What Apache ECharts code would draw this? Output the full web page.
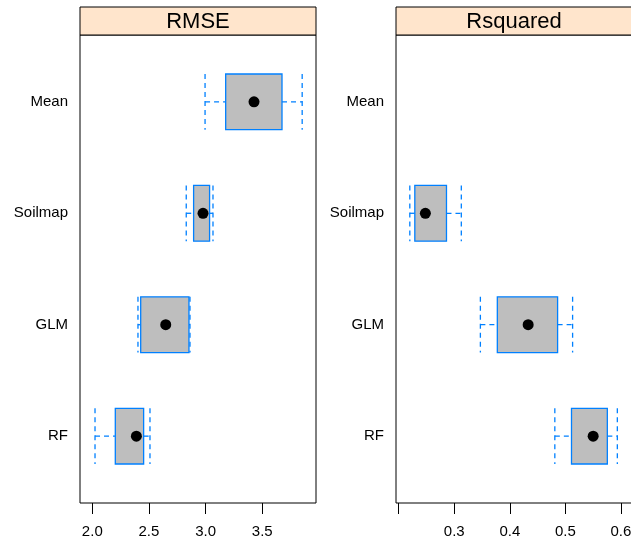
<!DOCTYPE html>
<html><head><meta charset="utf-8">
<script src="https://cdn.jsdelivr.net/npm/echarts@6/dist/echarts.min.js"></script>
<style>html,body{margin:0;padding:0;background:#fff}#c{width:631px;height:540px}</style>
</head><body><div id="c"></div>
<script>
const models = ['RF', 'GLM', 'Soilmap', 'Mean'];
const panels = ['RMSE', 'Rsquared'];
const rmseLow  = [2.024, 2.403, 2.829, 2.995];
const rmseQ1   = [2.203, 2.427, 2.894, 3.177];
const rmseMed  = [2.389, 2.648, 2.977, 3.427];
const rmseQ3   = [2.453, 2.853, 3.035, 3.674];
const rmseHigh = [2.509, 2.862, 3.065, 3.852];
const rsqLow  = [0.481, 0.347, 0.220, null];
const rsqQ1   = [0.511, 0.3775, 0.229, null];
const rsqMed  = [0.550, 0.433, 0.248, null];
const rsqQ3   = [0.5755, 0.486, 0.286, null];
const rsqHigh = [0.5935, 0.513, 0.3127, null];
const rmseTicks = [2.0, 2.5, 3.0, 3.5];
const rsqTicks = [0.2, 0.3, 0.4, 0.5, 0.6];
const rsqTickLabels = [0.3, 0.4, 0.5, 0.6];

function rows(lo, q1, md, q3, hi) {
  const out = [];
  models.forEach((m, i) => {
    if (md[i] == null) return;
    out.push([i + 1, lo[i], q1[i], md[i], q3[i], hi[i]]);
  });
  return out;
}

const BLUE = '#0080ff';
function renderBox(params, api) {
  const y = api.value(0);
  const pLo = api.coord([api.value(1), y]);
  const pQ1 = api.coord([api.value(2), y]);
  const pMd = api.coord([api.value(3), y]);
  const pQ3 = api.coord([api.value(4), y]);
  const pHi = api.coord([api.value(5), y]);
  const h = api.size([0, 0.5])[1];
  const cy = pLo[1];
  const dash = {stroke: BLUE, lineWidth: 1.3, lineDash: [5, 4], fill: null};
  return {
    type: 'group',
    children: [
      {type: 'line', shape: {x1: pLo[0], y1: cy, x2: pQ1[0], y2: cy}, style: dash},
      {type: 'line', shape: {x1: pQ3[0], y1: cy, x2: pHi[0], y2: cy}, style: dash},
      {type: 'line', shape: {x1: pLo[0], y1: cy - h / 2, x2: pLo[0], y2: cy + h / 2}, style: dash},
      {type: 'line', shape: {x1: pHi[0], y1: cy - h / 2, x2: pHi[0], y2: cy + h / 2}, style: dash},
      {type: 'rect', shape: {x: pQ1[0], y: cy - h / 2, width: pQ3[0] - pQ1[0], height: h},
        style: {fill: '#BEBEBE', stroke: BLUE, lineWidth: 1.3}},
      {type: 'circle', shape: {cx: pMd[0], cy: cy, r: 5.5}, style: {fill: '#000'}}
    ]
  };
}

const FONT = '"Liberation Sans", Arial, Helvetica, sans-serif';
const panelLeft = [80, 396];
const panelW = 236;
const xRanges = [[1.8915, 3.974], [0.19514, 0.6199]];
const xTickVals = [rmseTicks, rsqTicks];
const xLabelVals = [rmseTicks, rsqTickLabels];

const chart = echarts.init(document.getElementById('c'), null, {renderer: 'canvas'});
const option = {
  animation: false,
  textStyle: {fontFamily: FONT},
  grid: panelLeft.map(l => ({left: l, top: 35, width: panelW, height: 468, show: true,
    borderColor: '#000', borderWidth: 1, backgroundColor: 'transparent', containLabel: false,
    outerBoundsMode: 'none'})),
  xAxis: [0, 1].map(i => ({
    type: 'value', gridIndex: i, min: xRanges[i][0], max: xRanges[i][1],
    splitLine: {show: false}, axisLine: {show: false},
    axisTick: {show: true, length: 11, inside: false, customValues: xTickVals[i], lineStyle: {color: '#000', width: 1}},
    axisLabel: {customValues: xLabelVals[i], formatter: v => Number(v).toFixed(1), fontSize: 15, color: '#000', margin: 21, fontFamily: FONT, hideOverlap: false}
  })),
  yAxis: [0, 1].map(i => ({
    type: 'value', gridIndex: i, min: 0.4, max: 4.6,
    splitLine: {show: false}, axisLine: {show: false}, axisTick: {show: false},
    axisLabel: {customValues: [1, 2, 3, 4], formatter: v => models[Math.round(v) - 1], fontSize: 15, color: '#000', margin: 12, fontFamily: FONT}
  })),
  graphic: panelLeft.flatMap((l, i) => [
    {type: 'rect', shape: {x: l, y: 7, width: panelW, height: 28}, style: {fill: '#FFE5CC', stroke: '#000', lineWidth: 1}},
    {type: 'text', x: l + panelW / 2, y: 21.5, style: {text: panels[i], font: '22px ' + FONT, fill: '#000', align: 'center', verticalAlign: 'middle'}}
  ]),
  series: [
    {type: 'custom', xAxisIndex: 0, yAxisIndex: 0, renderItem: renderBox,
      data: rows(rmseLow, rmseQ1, rmseMed, rmseQ3, rmseHigh), encode: {x: [1, 2, 3, 4, 5], y: 0}},
    {type: 'custom', xAxisIndex: 1, yAxisIndex: 1, renderItem: renderBox,
      data: rows(rsqLow, rsqQ1, rsqMed, rsqQ3, rsqHigh), encode: {x: [1, 2, 3, 4, 5], y: 0}}
  ]
};
chart.setOption(option);
</script>
</body></html>
